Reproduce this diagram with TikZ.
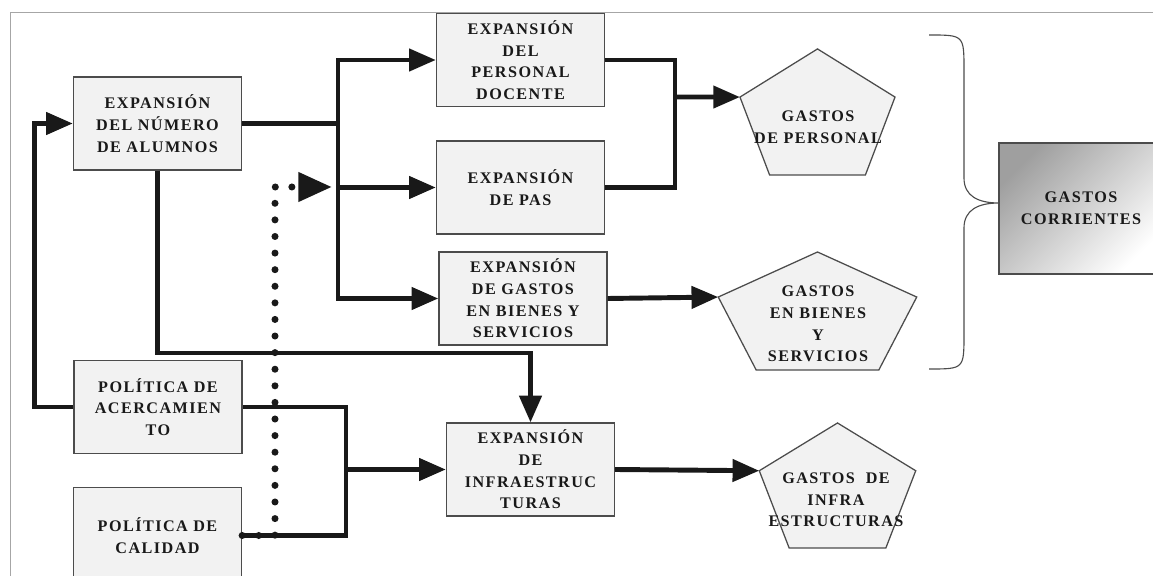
\documentclass[tikz,border=0pt]{standalone}
\usepackage{fontspec}
\setmainfont{Liberation Serif}
\newfontfamily\cajafont{Liberation Serif}[LetterSpace=9]
\usetikzlibrary{arrows.meta,shapes.geometric}

\tikzset{
  caja/.style={draw=black!70, line width=0.9pt, fill=gray!10, minimum width=4.2cm, minimum height=2.32cm,
    align=center, inner sep=2pt, text=black!90, font=\cajafont\bfseries\fontsize{11.5}{15.4}\selectfont},
  gasto/.style={regular polygon, regular polygon sides=5, draw=black!70, line width=0.9pt, fill=gray!10,
    inner sep=0pt, outer sep=0pt},
  rotulo/.style={align=center, inner sep=0pt, text=black!90, font=\cajafont\bfseries\fontsize{11.5}{15.4}\selectfont},
  linea/.style={line width=3.5pt, black!90},
  flecha/.style={linea, -{Triangle[length=19pt,width=15.5pt]}},
  punteada/.style={line width=5pt, line cap=round, dash pattern=on 0pt off 11.8pt, black!90,
    -{Triangle[length=24pt,width=20pt]}},
}

\begin{document}
\begin{tikzpicture}[x=0.025cm, y=-0.025cm]
  \useasboundingbox (0,0) rectangle (1153,576);
  \draw [gray!70, line width=0.6pt] (10,620) -- (10,12) -- (1180,12);

  % cajas
  \node (alumnos) [caja] at (157.5,123.5) {EXPANSIÓN\\DEL NÚMERO\\DE ALUMNOS};
  \node (docente) [caja] at (520.5,60) {EXPANSIÓN\\DEL\\PERSONAL\\DOCENTE};
  \node (pas) [caja] at (520.5,187.5) {EXPANSIÓN\\DE PAS};
  \node (bienes) [caja] at (523,298.5) {EXPANSIÓN\\DE GASTOS\\EN BIENES Y\\SERVICIOS};
  \node (acerca) [caja] at (158,407) {POLÍTICA DE\\ACERCAMIEN\\TO};
  \node (calidad) [caja, minimum height=2.4cm] at (157.5,535.5) {POLÍTICA DE\\CALIDAD};
  \node (infra) [caja] at (530.5,469.5) {EXPANSIÓN\\DE\\INFRAESTRUC\\TURAS};
  \node (corr) [caja, minimum width=4.1cm, minimum height=3.275cm, top color=gray!75, bottom color=white,
    shading angle=45] at (1081,208.5) {GASTOS\\CORRIENTES};

  % pentagonos
  \begin{scope}[shift={(817.5,118.6)}, xscale=1.17]
    \node (gpersonal) [gasto, transform shape, minimum size=3.4825cm] at (0,0) {};
  \end{scope}
  \begin{scope}[shift={(817.5,317.2)}, xscale=1.6]
    \node (gbienes) [gasto, transform shape, minimum size=3.26cm] at (0,0) {};
  \end{scope}
  \begin{scope}[shift={(837.5,492.1)}, xscale=1.19]
    \node (ginfra) [gasto, transform shape, minimum size=3.455cm] at (0,0) {};
  \end{scope}
  \node (tpersonal) [rotulo] at (818,127) {GASTOS\\DE PERSONAL};
  \node (tbienes) [rotulo] at (818,324) {GASTOS\\EN BIENES\\Y\\SERVICIOS};
  \node (tinfra) [rotulo] at (836,500) {GASTOS\ \ DE\\INFRA\\ESTRUCTURAS};

  % llave
  \draw [black!70, line width=0.8pt] (929,35) .. controls (964,35) .. (964,70) -- (964,178)
    .. controls (964,196) and (978,203) .. (999,203)
    .. controls (978,203) and (964,210) .. (964,228) -- (964,334)
    .. controls (964,369) .. (929,369);

  % conexiones
  \coordinate (bus) at (338,123.5);
  \draw [linea] (alumnos.east) -- (bus);
  \draw [flecha] (bus) |- (docente.west);
  \draw [flecha] (bus) |- (pas.west);
  \draw [flecha] (bus) |- (bienes.west);

  \coordinate (union) at (675,97);
  \draw [linea] (docente.east) -| (union) |- (pas.east);
  \draw [flecha] (union) -- (gpersonal.corner 2);
  \draw [flecha] (bienes.east) -- (gbienes.corner 2);

  \coordinate (codo) at (530.5,353);
  \draw [flecha] (alumnos.south) |- (codo) -- (infra.north);
  \draw [flecha] (acerca.west) -- ++(-39,0) |- (alumnos.west);

  \coordinate (junta) at (346,469.5);
  \draw [linea] (acerca.east) -| (junta) |- (calidad.east);
  \draw [flecha] (junta) -- (infra.west);
  \draw [flecha] (infra.east) -- (ginfra.corner 2);

  \coordinate (esquina) at (275,187);
  \coordinate (meta) at (332,187);
  \draw [punteada] (calidad.east) -| (esquina) -- (meta);
\end{tikzpicture}
\end{document}
